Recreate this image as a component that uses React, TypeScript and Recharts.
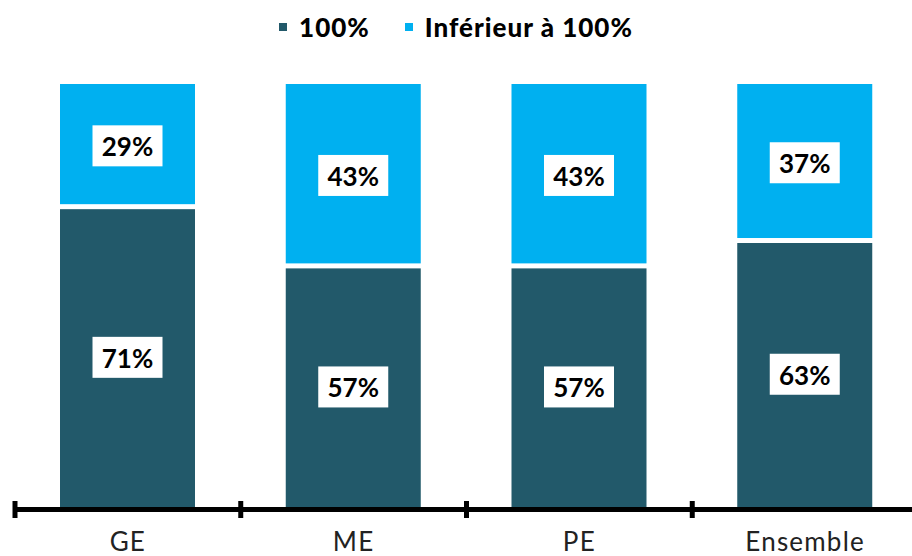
import { BarChart, Bar, XAxis, YAxis, Legend, LabelList } from 'recharts';

const categories = ['GE', 'ME', 'PE', 'Ensemble'];
const full = [71, 57, 57, 63];
const below = [29, 43, 43, 37];

const data = categories.map((name, i) => ({ name, full: full[i], below: below[i] }));

const DARK = '#22596A';
const LIGHT = '#00B0F0';
const FONT = 'Lato, "DejaVu Sans", sans-serif';

const CHART_W = 930;
const CHART_H = 556;
const MARGIN = { top: 44, right: 12, left: 15, bottom: 0 };
const AXIS_H = 49;
const BAND = (CHART_W - MARGIN.left - MARGIN.right) / categories.length;
const AXIS_Y = CHART_H - AXIS_H;

const GAP = 2.5;

const TopShape = (props: any) => {
  const { x, y, width, height, fill } = props;
  return <rect x={x} y={y} width={width} height={Math.max(0, height - GAP)} fill={fill} />;
};

const BottomShape = (props: any) => {
  const { x, y, width, height, fill } = props;
  return <rect x={x} y={y + GAP} width={width} height={Math.max(0, height - GAP)} fill={fill} />;
};

const ValueLabel = (props: any) => {
  const { x, y, width, height, value } = props;
  const cx = x + width / 2;
  const cy = y + height / 2;
  return (
    <g>
      <rect x={cx - 35} y={cy - 20} width={70} height={41} fill="#fff" />
      <text
        x={cx}
        y={cy + 1}
        textAnchor="middle"
        dominantBaseline="central"
        fontFamily={FONT}
        fontWeight={700}
        fontSize={26}
        fill="#000"
      >
        {`${value}%`}
      </text>
    </g>
  );
};

const CategoryTick = (props: any) => {
  const { x, payload, index } = props;
  const left = x - BAND / 2;
  const right = x + BAND / 2;
  return (
    <g>
      <line x1={left} x2={right} y1={AXIS_Y + 2.5} y2={AXIS_Y + 2.5} stroke="#000" strokeWidth={5} />
      <line x1={left} x2={left} y1={AXIS_Y - 6} y2={AXIS_Y + 11} stroke="#000" strokeWidth={5} />
      {index === categories.length - 1 && (
        <line x1={right} x2={right} y1={AXIS_Y - 6} y2={AXIS_Y + 11} stroke="#000" strokeWidth={5} />
      )}
      <text
        x={x}
        y={AXIS_Y + 34}
        textAnchor="middle"
        dominantBaseline="central"
        fontFamily={FONT}
        fontSize={26}
        letterSpacing={1.2}
        fill="#222"
      >
        {payload.value}
      </text>
    </g>
  );
};

const LegendContent = () => (
  <div
    style={{
      height: 40,
      display: 'flex',
      justifyContent: 'center',
      alignItems: 'center',
      fontFamily: FONT,
      fontWeight: 900,
      fontSize: 26,
      letterSpacing: 1,
      color: '#000',
    }}
  >
    <span style={{ display: 'flex', alignItems: 'center', marginRight: 35 }}>
      <span style={{ width: 8, height: 8, background: DARK, marginRight: 12 }} />
      100%
    </span>
    <span style={{ display: 'flex', alignItems: 'center' }}>
      <span style={{ width: 8, height: 8, background: LIGHT, marginRight: 12 }} />
      Inférieur à 100%
    </span>
  </div>
);

export default function App() {
  return (
    <div style={{ position: 'absolute', left: 0, top: 0, width: 912, height: 556, overflow: 'hidden', background: '#fff' }}>
      <BarChart width={CHART_W} height={CHART_H} data={data} margin={MARGIN} barSize={135}>
        <Legend verticalAlign="top" align="left" content={<LegendContent />} wrapperStyle={{ top: 7, left: 0, width: 912 }} />
        <XAxis
          dataKey="name"
          height={AXIS_H}
          axisLine={false}
          tickLine={false}
          tick={<CategoryTick />}
          interval={0}
        />
        <YAxis hide domain={[0, 100]} />
        <Bar dataKey="full" stackId="a" fill={DARK} shape={<BottomShape />} isAnimationActive={false}>
          <LabelList dataKey="full" content={<ValueLabel />} />
        </Bar>
        <Bar dataKey="below" stackId="a" fill={LIGHT} shape={<TopShape />} isAnimationActive={false}>
          <LabelList dataKey="below" content={<ValueLabel />} />
        </Bar>
      </BarChart>
    </div>
  );
}
